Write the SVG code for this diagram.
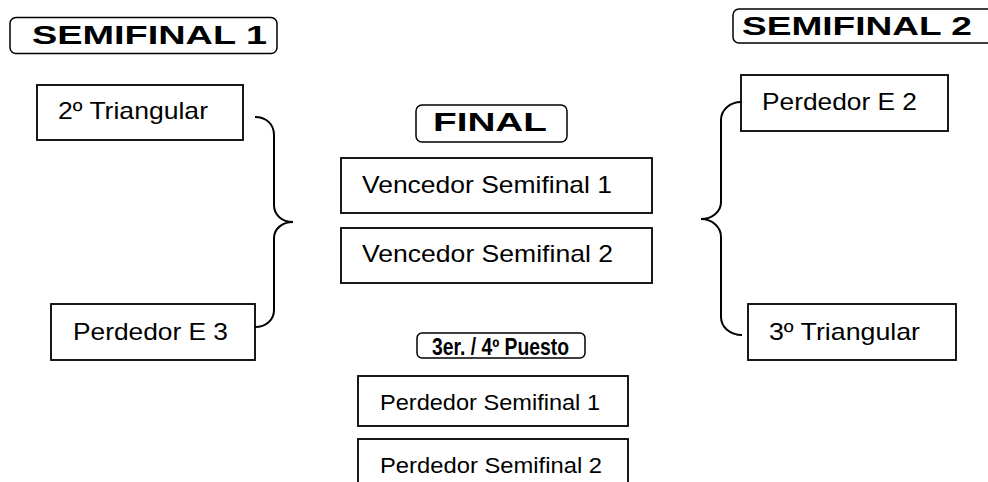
<svg xmlns="http://www.w3.org/2000/svg" width="988" height="482" viewBox="0 0 988 482">
<style>
.box{fill:#fff;stroke:#000;stroke-width:1.8}
.hdr{fill:#fff;stroke:#000;stroke-width:1.5}
.t{font-family:"Liberation Sans",Arial,sans-serif;font-size:24px;fill:#000}
.ts{font-family:"Liberation Sans",Arial,sans-serif;font-size:22px;fill:#000}
.h{font-family:"Liberation Sans",Arial,sans-serif;font-size:25px;font-weight:bold;fill:#000}
.h2{font-family:"Liberation Sans",Arial,sans-serif;font-size:23px;font-weight:bold;fill:#000}
.br{fill:none;stroke:#000;stroke-width:2}
</style>
<rect width="988" height="482" fill="#fff"/>
<g id="hdr-semifinal1">
<rect class="hdr" x="10" y="17.5" width="267" height="36" rx="6"/>
<text class="h" x="32" y="43.5" textLength="235" lengthAdjust="spacingAndGlyphs">SEMIFINAL 1</text>
</g>
<g id="hdr-semifinal2">
<rect class="hdr" x="733" y="9" width="270" height="34" rx="6"/>
<text class="h" x="742" y="35" textLength="230" lengthAdjust="spacingAndGlyphs">SEMIFINAL 2</text>
</g>
<g id="hdr-final">
<rect class="hdr" x="416" y="105" width="151" height="37" rx="6"/>
<text class="h" x="433" y="131" textLength="114" lengthAdjust="spacingAndGlyphs">FINAL</text>
</g>
<g id="hdr-3er">
<rect class="hdr" x="417" y="333" width="168" height="25" rx="5"/>
<text class="h2" x="432" y="354.5" textLength="137" lengthAdjust="spacingAndGlyphs">3er. / 4º Puesto</text>
</g>
<g id="n-2triangular">
<rect class="box" x="37" y="85" width="206" height="55"/>
<text class="t" x="58" y="119" textLength="150" lengthAdjust="spacingAndGlyphs">2º Triangular</text>
</g>
<g id="n-perdedorE3">
<rect class="box" x="51" y="304" width="204" height="56"/>
<text class="t" x="73" y="340" textLength="155" lengthAdjust="spacingAndGlyphs">Perdedor E 3</text>
</g>
<g id="n-perdedorE2">
<rect class="box" x="741" y="75" width="207" height="56"/>
<text class="t" x="762" y="110" textLength="155" lengthAdjust="spacingAndGlyphs">Perdedor E 2</text>
</g>
<g id="n-3triangular">
<rect class="box" x="748" y="304" width="208" height="56"/>
<text class="t" x="769" y="340" textLength="151" lengthAdjust="spacingAndGlyphs">3º Triangular</text>
</g>
<g id="n-vencedor1">
<rect class="box" x="341" y="158" width="311" height="55"/>
<text class="t" x="362" y="193" textLength="250" lengthAdjust="spacingAndGlyphs">Vencedor Semifinal 1</text>
</g>
<g id="n-vencedor2">
<rect class="box" x="341" y="228" width="311" height="55"/>
<text class="t" x="362" y="262" textLength="251" lengthAdjust="spacingAndGlyphs">Vencedor Semifinal 2</text>
</g>
<g id="n-perdedorsf1">
<rect class="box" x="358" y="376" width="270" height="50"/>
<text class="ts" x="380" y="410" textLength="220" lengthAdjust="spacingAndGlyphs">Perdedor Semifinal 1</text>
</g>
<g id="n-perdedorsf2">
<rect class="box" x="358" y="439" width="270" height="60"/>
<text class="ts" x="380" y="473" textLength="222" lengthAdjust="spacingAndGlyphs">Perdedor Semifinal 2</text>
</g>
<g id="connectors">
<path class="br" d="M255,117 C266,117 274,124 274,135 L274,205 C274,215 282,222 293,222 C282,222 274,229 274,238 L274,310 C274,320 266,327 255,327"/>
<path class="br" d="M741,102 C730,102 721,110 721,120 L721,202 C721,212 712,219 701,219 C712,219 721,227 721,237 L721,317 C721,327 730,335 742,335"/>
</g>
</svg>
